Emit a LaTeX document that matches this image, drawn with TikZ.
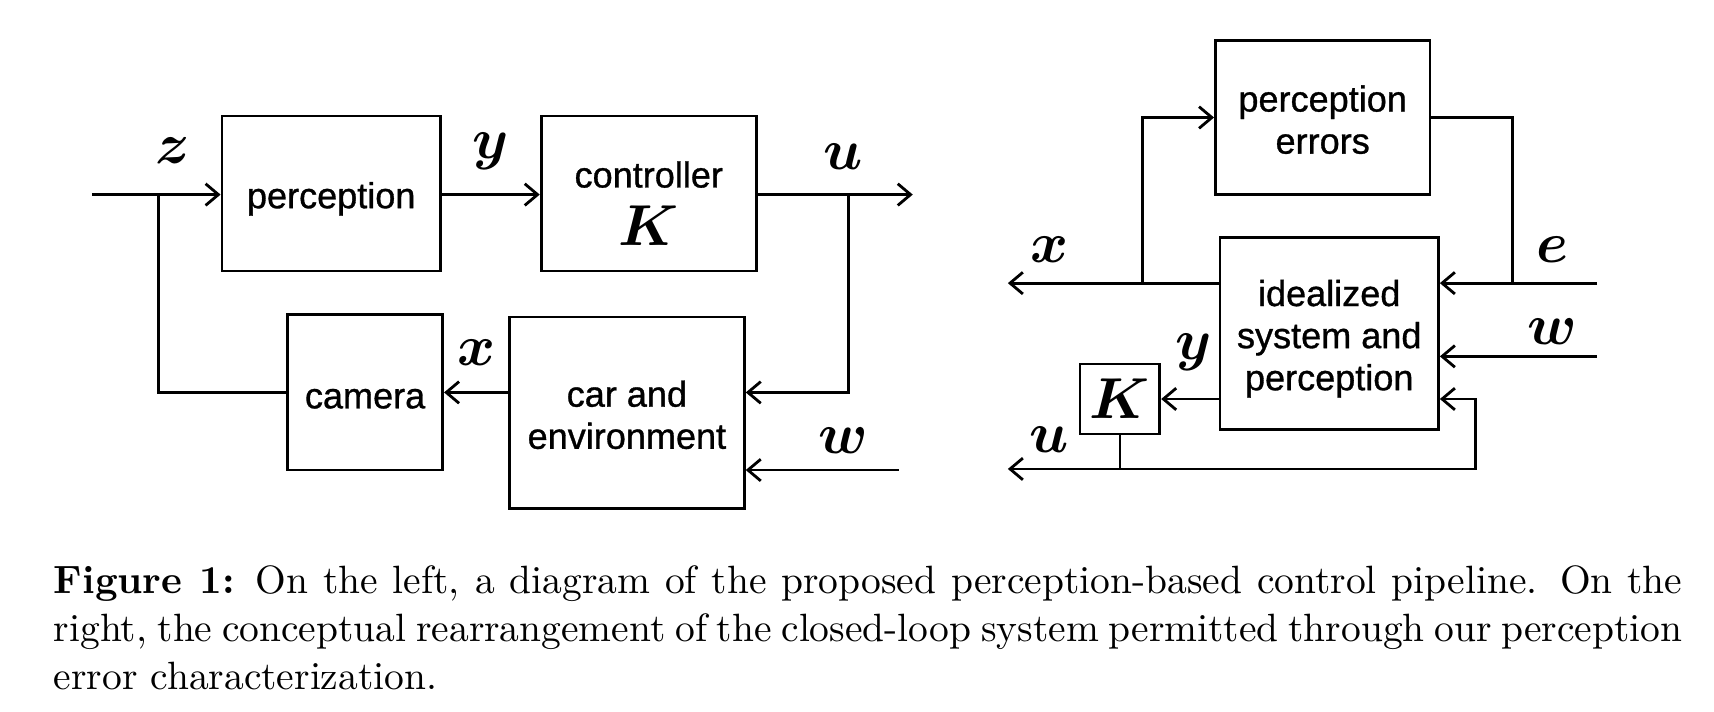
\documentclass[tikz,border=0pt]{standalone}
\usepackage{amsmath}
\usepackage{amssymb}
\usepackage{fontspec}
\setsansfont{Liberation Sans}[FakeBold=0.9]
\usepackage{tikz}
\usetikzlibrary{arrows.meta,positioning}

% invisible strut that pushes the first line of a block down
\newcommand{\blkstrut}[1]{\rule{0pt}{#1}}

\begin{document}
\begin{tikzpicture}[
    x=0.2727pt, y=-0.2727pt,
    >={Straight Barb[length=3.2pt,width=5.4pt]},
    line width=0.7pt,
    font=\sffamily\fontsize{9}{10.5}\selectfont,
    block/.style={
		rectangle,
		draw=black,
		align=center,
		inner sep=0pt,
		fill=white
	},
	sig/.style={
		inner sep=0pt,
		font=\fontsize{14}{14}\selectfont
	}
  ]
  \useasboundingbox (0,0) rectangle (1568,651);

  % We start by placing the blocks of the left loop
  \node [block, minimum width=54.5pt, minimum height=38.7pt] (perc) at (303,177) {\blkstrut{9.2pt}perception};
  \node [block, minimum width=53.7pt, minimum height=38.7pt] (ctrl) at (593.5,177)
 {\blkstrut{11.4pt}controller\\[3.9pt]{\fontsize{14}{14}\selectfont$\boldsymbol{K}$}};
  \node [block, minimum width=38.7pt, minimum height=38.7pt] (cam) at (334,359) {\blkstrut{8pt}camera};
  \node [block, minimum width=58.6pt, minimum height=47.7pt] (car) at (573.5,377.5) {\blkstrut{7.6pt}car and\\environment};

  \coordinate (zin) at (84,178);
  \coordinate (zsplit) at (145,178);
  \coordinate (uout) at (835,178);
  \coordinate (usplit) at (776,178);
  \coordinate (win) at (822,430);

  \draw [->] (zin) -- (perc.west |- zin);
  \draw [->] (perc.east |- zin) -- (ctrl.west |- zin);
  \draw [->] (ctrl.east |- uout) -- (uout);
  \draw [->] (usplit) |- (car.east |- cam.east);
  \draw [->] (car.west |- cam.east) -- (cam.east);
  \draw (cam.west) -| (zsplit);
  \draw [->] (win) -- (car.east |- win);

  \node [sig] (zlab) at (158,138) {$\boldsymbol{z}$};
  \node [sig] (ylab) at (449,138) {$\boldsymbol{y}$};
  \node [sig] (ulab) at (771,143) {$\boldsymbol{u}$};
  \node [sig] (xlab) at (436,323) {$\boldsymbol{x}$};
  \node [sig] (wlab) at (771,403) {$\boldsymbol{w}$};

  % right: the rearranged loop
  \node [block, minimum width=53.5pt, minimum height=38.5pt] (perr) at (1210,107.5) {\blkstrut{7.6pt}perception\\errors};
  \node [block, minimum width=54.5pt, minimum height=48pt] (ideal) at (1216,305) {\blkstrut{9.2pt}idealized\\system and\\perception};
  \node [block, minimum width=19.9pt, minimum height=17.5pt,
         font=\fontsize{14}{14}\selectfont] (kbox) at (1024.5,365) {$\boldsymbol{K}$};

  \coordinate (xout) at (922,259);
  \coordinate (xsplit) at (1045,259);
  \coordinate (esplit) at (1384,259);
  \coordinate (ein) at (1461,259);
  \coordinate (win2) at (1461,326);
  \coordinate (uout2) at (922,429);
  \coordinate (ucorner) at (1350,429);

  \draw [->] (ideal.west |- xout) -- (xout);
  \draw [->] (xsplit) |- (perr.west);
  \draw (perr.east) -| (esplit);
  \draw [->] (ein) -- (ideal.east |- ein);
  \draw [->] (win2) -- (ideal.east |- win2);
  \draw [->] (ideal.west |- kbox) -- (kbox.east);
  \draw [->] (kbox.south) |- (ucorner) |- (ideal.east |- kbox);
  \draw [->] (kbox.south |- ucorner) -- (uout2);

  \node [sig] (xlab2) at (960,228) {$\boldsymbol{x}$};
  \node [sig] (elab) at (1420,228) {$\boldsymbol{e}$};
  \node [sig] (wlab2) at (1420,303) {$\boldsymbol{w}$};
  \node [sig] (ylab2) at (1092,322) {$\boldsymbol{y}$};
  \node [sig] (ulab2) at (960,402) {$\boldsymbol{u}$};

  \node [anchor=north west, inner sep=0pt, text width=406.3pt, align=justify,
         font=\rmfamily\fontsize{9.85}{12}\selectfont] (caption) at (48,516)
 {\hyphenpenalty=10000\relax
  \textbf{Figure 1:} On the left, a diagram of the proposed perception-based control pipeline. On the\linebreak
  right, the conceptual rearrangement of the closed-loop system permitted through our perception\linebreak
  error characterization.};

\end{tikzpicture}
\end{document}
